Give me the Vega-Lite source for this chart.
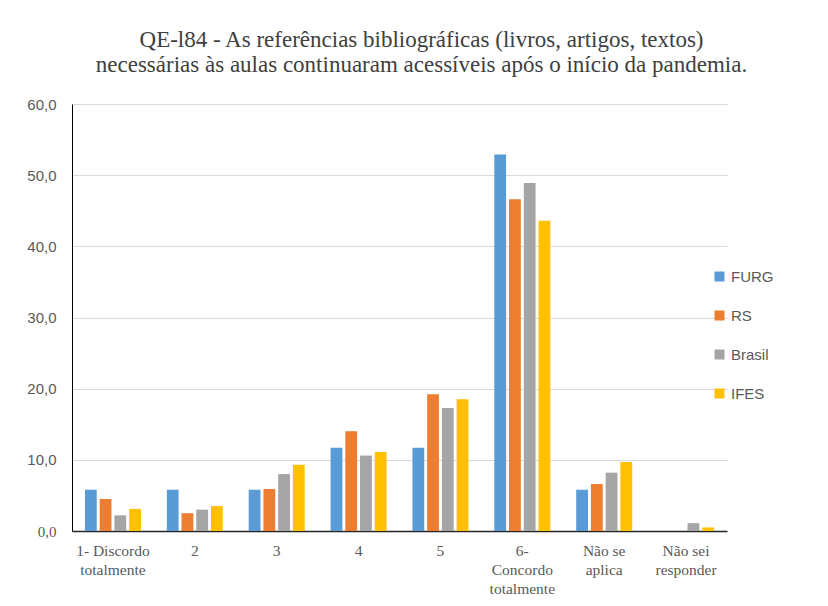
{
  "$schema": "https://vega.github.io/schema/vega-lite/v6.json",
  "autosize": {"type": "none"},
  "width": 655,
  "height": 427,
  "padding": {"left": 72, "top": 104, "right": 101, "bottom": 75},
  "background": "white",
  "title": {
    "text": ["QE-l84 - As referências bibliográficas (livros, artigos, textos)", "necessárias às aulas continuaram acessíveis após o início da pandemia."],
    "font": "Liberation Serif",
    "fontSize": 23,
    "fontWeight": "normal",
    "color": "#404040",
    "lineHeight": 25,
    "anchor": "middle",
    "dx": 22,
    "offset": 20
  },
  "data": {
    "values": [
      {"cat": "1- Discordo totalmente", "serie": "FURG", "v": 5.8},
      {"cat": "1- Discordo totalmente", "serie": "RS", "v": 4.5},
      {"cat": "1- Discordo totalmente", "serie": "Brasil", "v": 2.2},
      {"cat": "1- Discordo totalmente", "serie": "IFES", "v": 3.1},
      {"cat": "2", "serie": "FURG", "v": 5.8},
      {"cat": "2", "serie": "RS", "v": 2.5},
      {"cat": "2", "serie": "Brasil", "v": 3.0},
      {"cat": "2", "serie": "IFES", "v": 3.5},
      {"cat": "3", "serie": "FURG", "v": 5.8},
      {"cat": "3", "serie": "RS", "v": 5.9},
      {"cat": "3", "serie": "Brasil", "v": 8.0},
      {"cat": "3", "serie": "IFES", "v": 9.3},
      {"cat": "4", "serie": "FURG", "v": 11.7},
      {"cat": "4", "serie": "RS", "v": 14.0},
      {"cat": "4", "serie": "Brasil", "v": 10.6},
      {"cat": "4", "serie": "IFES", "v": 11.1},
      {"cat": "5", "serie": "FURG", "v": 11.7},
      {"cat": "5", "serie": "RS", "v": 19.2},
      {"cat": "5", "serie": "Brasil", "v": 17.3},
      {"cat": "5", "serie": "IFES", "v": 18.5},
      {"cat": "6- Concordo totalmente", "serie": "FURG", "v": 52.9},
      {"cat": "6- Concordo totalmente", "serie": "RS", "v": 46.6},
      {"cat": "6- Concordo totalmente", "serie": "Brasil", "v": 48.9},
      {"cat": "6- Concordo totalmente", "serie": "IFES", "v": 43.6},
      {"cat": "Não se aplica", "serie": "FURG", "v": 5.8},
      {"cat": "Não se aplica", "serie": "RS", "v": 6.6},
      {"cat": "Não se aplica", "serie": "Brasil", "v": 8.2},
      {"cat": "Não se aplica", "serie": "IFES", "v": 9.7},
      {"cat": "Não sei responder", "serie": "FURG", "v": 0},
      {"cat": "Não sei responder", "serie": "RS", "v": 0},
      {"cat": "Não sei responder", "serie": "Brasil", "v": 1.1},
      {"cat": "Não sei responder", "serie": "IFES", "v": 0.5}
    ]
  },
  "mark": {"type": "bar"},
  "encoding": {
    "x": {
      "field": "cat",
      "type": "nominal",
      "sort": null,
      "scale": {"paddingInner": 0.316, "paddingOuter": 0.158},
      "axis": {
        "title": null,
        "labelAngle": 0,
        "labelFont": "Liberation Serif",
        "labelFontSize": 15.5,
        "labelColor": "#595959",
        "labelLineHeight": 19,
        "labelPadding": 12,
        "labelBaseline": "top",
        "ticks": false,
        "domainColor": "#262626",
        "domainWidth": 1.5,
        "grid": false,
        "labelExpr": "datum.value == '1- Discordo totalmente' ? ['1- Discordo', 'totalmente'] : datum.value == '6- Concordo totalmente' ? ['6-', 'Concordo', 'totalmente'] : datum.value == 'Não se aplica' ? ['Não se', 'aplica'] : datum.value == 'Não sei responder' ? ['Não sei', 'responder'] : datum.value"
      }
    },
    "xOffset": {
      "field": "serie",
      "type": "nominal",
      "sort": ["FURG", "RS", "Brasil", "IFES"],
      "scale": {"paddingInner": 0.2, "paddingOuter": 0}
    },
    "y": {
      "field": "v",
      "type": "quantitative",
      "scale": {"domain": [0, 60], "nice": false},
      "axis": {
        "title": null,
        "values": [0, 10, 20, 30, 40, 50, 60],
        "labelExpr": "replace(format(datum.value, '.1f'), '.', ',')",
        "labelFont": {"condition": {"test": "datum.value == 0", "value": "Liberation Serif"}, "value": "Liberation Sans"},
        "labelFontSize": 15,
        "labelColor": "#595959",
        "labelPadding": 16,
        "ticks": false,
        "domainColor": "#000000",
        "domainWidth": 1,
        "gridColor": "#D9D9D9",
        "gridWidth": 1
      }
    },
    "color": {
      "field": "serie",
      "type": "nominal",
      "sort": ["FURG", "RS", "Brasil", "IFES"],
      "scale": {"domain": ["FURG", "RS", "Brasil", "IFES"], "range": ["#5B9BD5", "#ED7D31", "#A5A5A5", "#FFC000"]},
      "legend": {
        "title": null,
        "orient": "none",
        "legendX": 640,
        "legendY": 165,
        "symbolType": "square",
        "symbolSize": 100,
        "symbolStrokeWidth": 0,
        "labelFont": "Liberation Sans",
        "labelFontSize": 15,
        "labelColor": "#595959",
        "labelOffset": 4,
        "rowPadding": 23
      }
    }
  },
  "config": {
    "view": {"stroke": null}
  }
}
